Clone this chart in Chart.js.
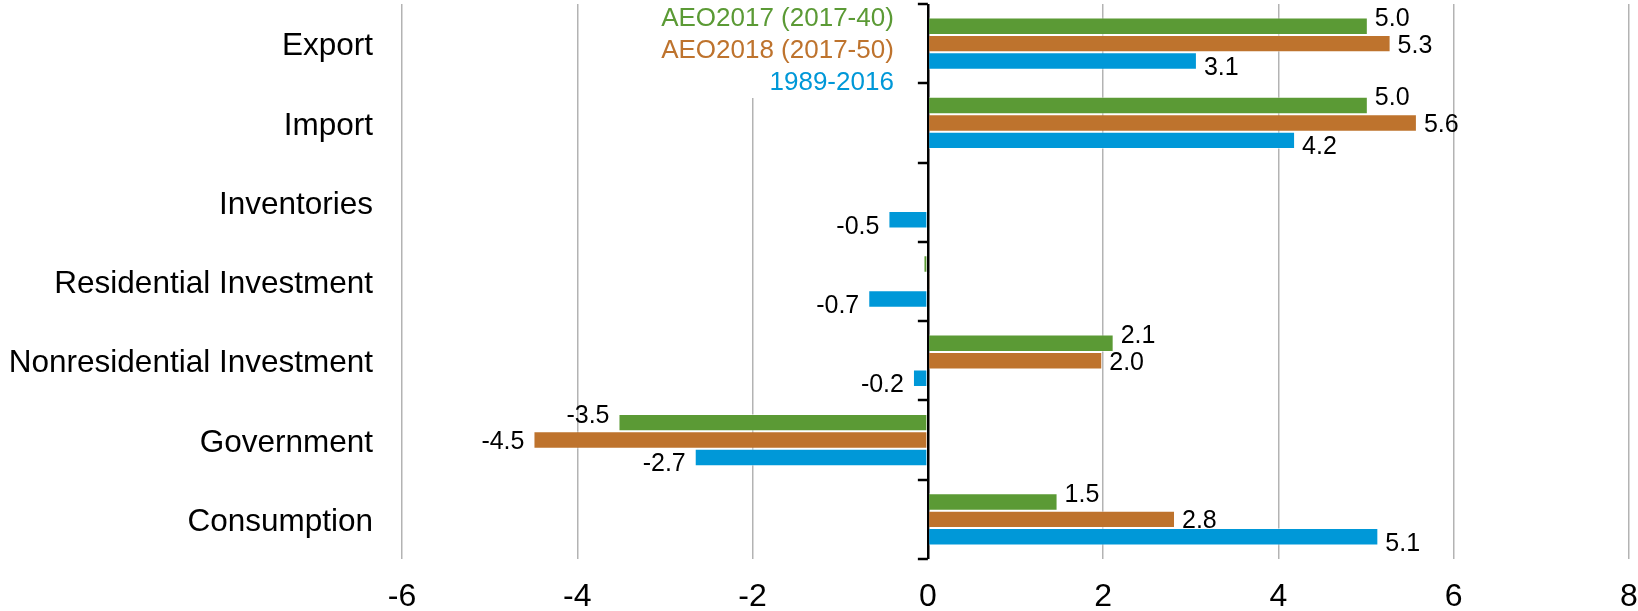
<!DOCTYPE html>
<html>
<head>
<meta charset="utf-8">
<script src="https://cdn.jsdelivr.net/npm/chart.js@4/dist/chart.umd.min.js"></script>
<style>
  html, body { margin: 0; padding: 0; background: #fff; }
  #wrap { width: 1638px; height: 611px; position: relative; }
</style>
</head>
<body>
<div id="wrap"><canvas id="chart"></canvas></div>
<script>
// categories, top to bottom
const categories = ["Export", "Import", "Inventories", "Residential Investment",
  "Nonresidential Investment", "Government", "Consumption"];

const seriesNames = ["AEO2017 (2017-40)", "AEO2018 (2017-50)", "1989-2016"];
const seriesColors = ["#5B9A35", "#BE732D", "#0098D8"];

// average annual growth, percent
const aeo2017 = [5.02, 5.02, 0, -0.05, 2.12, -3.53, 1.48];
const aeo2018 = [5.28, 5.58, 0, 0.02, 1.99, -4.5, 2.82];
const hist = [3.07, 4.19, -0.45, -0.68, -0.17, -2.66, 5.14];

const xTicks = [-6, -4, -2, 0, 2, 4, 6, 8];

const FONT = "'Liberation Sans', Arial, sans-serif";

// value labels at the end of each bar
const valueLabels = {
  id: "valueLabels",
  afterDatasetsDraw(chart) {
    const ctx = chart.ctx;
    const shift = [-7, 2, 7];
    ctx.save();
    ctx.font = "25px " + FONT;
    ctx.fillStyle = "#000";
    ctx.textBaseline = "middle";
    chart.data.datasets.forEach((ds, i) => {
      const meta = chart.getDatasetMeta(i);
      meta.data.forEach((bar, j) => {
        const v = ds.data[j];
        if (Math.abs(v) < 0.1) return;
        const txt = v.toFixed(1);
        if (v >= 0) {
          ctx.textAlign = "left";
          ctx.fillText(txt, bar.x + 7, bar.y + shift[i]);
        } else {
          ctx.textAlign = "right";
          ctx.fillText(txt, bar.x - 9, bar.y + shift[i]);
        }
      });
    });
    ctx.restore();
  }
};

// legend as coloured text in the top middle, on a white patch
const textLegend = {
  id: "textLegend",
  beforeDatasetsDraw(chart) {
    const ctx = chart.ctx;
    const x0 = chart.scales.x.getPixelForValue(0);
    ctx.save();
    ctx.fillStyle = "#fff";
    ctx.fillRect(x0 - 330, 0, 315, 98);
    ctx.font = "26px " + FONT;
    ctx.textAlign = "right";
    ctx.textBaseline = "middle";
    seriesNames.forEach((name, i) => {
      ctx.fillStyle = seriesColors[i];
      ctx.fillText(name, x0 - 34, 19 + i * 32);
    });
    ctx.restore();
  }
};

// small tick marks on the zero axis between categories
const zeroAxisTicks = {
  id: "zeroAxisTicks",
  afterDraw(chart) {
    const ctx = chart.ctx;
    const x0 = chart.scales.x.getPixelForValue(0);
    const y = chart.scales.y;
    const step = (y.bottom - y.top) / categories.length;
    ctx.save();
    ctx.strokeStyle = "#000";
    ctx.lineWidth = 2.5;
    for (let i = 0; i <= categories.length; i++) {
      const py = Math.round(y.top + i * step);
      ctx.beginPath();
      ctx.moveTo(x0 - 10, py);
      ctx.lineTo(x0, py);
      ctx.stroke();
    }
    ctx.restore();
  }
};

const datasets = [aeo2017, aeo2018, hist].map((d, i) => ({
  label: seriesNames[i],
  data: d,
  backgroundColor: seriesColors[i],
  borderColor: "rgba(255,255,255,0.5)",
  borderWidth: 1,
  categoryPercentage: 0.66,
  barPercentage: 1.0
}));

new Chart(document.getElementById("chart"), {
  type: "bar",
  data: { labels: categories, datasets: datasets },
  options: {
    indexAxis: "y",
    responsive: true,
    maintainAspectRatio: false,
    animation: false,
    layout: { padding: { top: 4, right: 9, left: 0, bottom: 0 } },
    plugins: {
      legend: { display: false },
      tooltip: { enabled: false }
    },
    scales: {
      x: {
        min: -6,
        max: 8,
        afterBuildTicks: (s) => { s.ticks = xTicks.map((v) => ({ value: v })); },
        afterFit: (s) => {
          s.height = 52;
          s.paddingLeft = 0;
          s.paddingRight = 0;
        },
        border: { display: false },
        grid: {
          drawTicks: false,
          color: (c) => (c.tick && c.tick.value === 0 ? "#000" : "#b3b3b3"),
          lineWidth: (c) => (c.tick && c.tick.value === 0 ? 2.5 : 1.5)
        },
        ticks: {
          padding: 22,
          color: "#000",
          font: { family: FONT, size: 32, lineHeight: 1 }
        }
      },
      y: {
        afterFit: (s) => {
          s.width = 402;
          s.paddingTop = 0;
          s.paddingBottom = 0;
        },
        border: { display: false },
        grid: { display: false, drawTicks: false },
        ticks: {
          padding: 29,
          labelOffset: 3,
          color: "#000",
          font: { family: FONT, size: 31.5 }
        }
      }
    }
  },
  plugins: [textLegend, valueLabels, zeroAxisTicks]
});
</script>
</body>
</html>
